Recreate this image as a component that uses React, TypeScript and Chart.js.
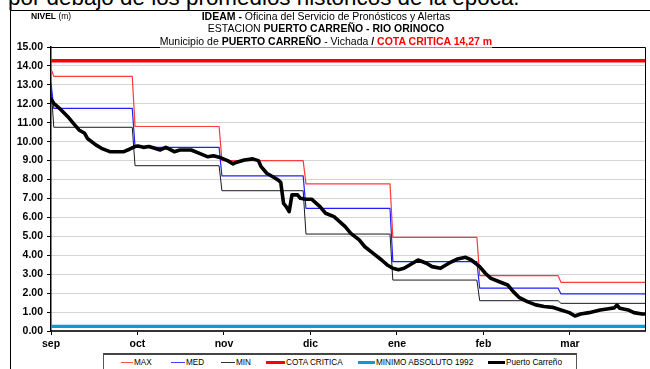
import React, { useEffect, useRef } from "react";
import { Chart, registerables } from "chart.js";

Chart.register(...registerables);

// Day index: 0 = 1 sep 2015 ... 212 = 31 mar 2016
const LAST_DAY = 212;
const MONTH_TICK_STEP = 30.87;
const monthLabels = ["sep", "oct", "nov", "dic", "ene", "feb", "mar"];
const yTickValues = [0, 15];

// Historical monthly references (MAX / MED / MIN), as step points
const histDays = [0, 1, 29, 30, 60, 61, 90, 91, 121, 122, 152, 153, 181, 182, 212];
const maxLevels = [13.85, 13.45, 13.45, 10.8, 10.8, 9.0, 9.0, 7.77, 7.77, 4.95, 4.95, 2.92, 2.92, 2.57, 2.57];
const medLevels = [13.1, 11.76, 11.76, 9.7, 9.7, 8.19, 8.19, 6.48, 6.48, 3.66, 3.66, 2.26, 2.26, 1.96, 1.96];
const minLevels = [12.9, 10.76, 10.76, 8.73, 8.73, 7.41, 7.41, 5.12, 5.12, 2.69, 2.69, 1.6, 1.6, 1.46, 1.46];

const cotaCritica = 14.27;
const minimoAbsoluto1992 = 0.24;

// Observed level at Puerto Carreño
const carrenoDays = [
  0, 1, 3, 6, 8, 10, 12, 13, 16, 18, 21, 26, 28, 30, 31, 33, 35, 37, 39, 41, 44, 46, 50, 53, 56, 58, 60,
  63, 65, 66, 69, 72, 74, 75, 77, 79, 81, 82, 83, 84, 85, 86, 88, 89, 91, 93, 94, 96, 98, 101, 103, 105,
  107, 110, 112, 115, 118, 120, 122, 124, 126, 128, 131, 134, 136, 139, 142, 145, 148, 150, 153, 155, 157,
  160, 163, 165, 167, 170, 173, 176, 179, 182, 185, 187, 189, 192, 196, 199, 201, 202, 203, 206, 208, 211, 212,
];
const carrenoLevels = [
  12.25, 12.03, 11.76, 11.32, 10.97, 10.62, 10.44, 10.17, 9.83, 9.65, 9.47, 9.47, 9.6, 9.74, 9.77, 9.7, 9.74,
  9.65, 9.56, 9.7, 9.47, 9.56, 9.56, 9.38, 9.2, 9.26, 9.18, 9.0, 8.83, 8.9, 9.03, 9.09, 9.0, 8.68, 8.33, 8.16,
  7.98, 7.85, 6.74, 6.56, 6.3, 7.19, 7.19, 7.01, 6.96, 6.96, 6.83, 6.57, 6.22, 6.04, 5.78, 5.51, 5.16, 4.81,
  4.45, 4.1, 3.75, 3.49, 3.31, 3.24, 3.31, 3.49, 3.75, 3.58, 3.4, 3.31, 3.58, 3.8, 3.89, 3.75, 3.4, 3.05, 2.78,
  2.6, 2.43, 2.08, 1.78, 1.55, 1.38, 1.29, 1.25, 1.11, 0.97, 0.79, 0.9, 0.97, 1.11, 1.18, 1.22, 1.37, 1.2, 1.11,
  0.97, 0.9, 0.9,
];

const FONT = "'Liberation Sans', Arial, Helvetica, sans-serif";

const toPoints = (xs: number[], ys: number[]) => xs.map((x, i) => ({ x, y: ys[i] }));

const legendEntries = [
  { label: "MAX", color: "#ff5050", thick: 1.5, left: 18, w: 12 },
  { label: "MED", color: "#4040ff", thick: 1.5, left: 68, w: 14 },
  { label: "MIN", color: "#333333", thick: 1.2, left: 118, w: 14 },
  { label: "COTA CRITICA", color: "#ff0000", thick: 3.5, left: 163, w: 19 },
  { label: "MINIMO ABSOLUTO 1992", color: "#0a9bd6", thick: 3.5, left: 255, w: 17 },
  { label: "Puerto Carreño", color: "#000000", thick: 3.5, left: 385, w: 17 },
];

export default function App() {
  const canvasRef = useRef<HTMLCanvasElement>(null);

  useEffect(() => {
    if (!canvasRef.current) return;

    const framePlugin = {
      id: "plotFrame",
      afterDraw(chart: any) {
        const { ctx, chartArea: a } = chart;
        ctx.save();
        ctx.strokeStyle = "#000";
        ctx.lineWidth = 1;
        ctx.beginPath();
        ctx.moveTo(a.left - 1, Math.floor(a.top) + 0.5);
        ctx.lineTo(Math.floor(a.right) + 0.5, Math.floor(a.top) + 0.5);
        ctx.lineTo(Math.floor(a.right) + 0.5, a.bottom);
        ctx.stroke();
        ctx.restore();
      },
    };

    const line = (label: string, data: any[], color: string, width: number, order: number) => ({
      label,
      data,
      borderColor: color,
      backgroundColor: color,
      borderWidth: width,
      pointRadius: 0,
      tension: 0,
      fill: false,
      order,
      borderJoinStyle: "round" as const,
      borderCapStyle: "round" as const,
    });

    const chart = new Chart(canvasRef.current, {
      type: "line",
      data: {
        datasets: [
          line("Puerto Carreño", toPoints(carrenoDays, carrenoLevels), "#000000", 3.6, 0),
          line("COTA CRITICA", toPoints([0, LAST_DAY], [cotaCritica, cotaCritica]), "#ff0000", 3.5, 1),
          line("MINIMO ABSOLUTO 1992", toPoints([0, LAST_DAY], [minimoAbsoluto1992, minimoAbsoluto1992]), "#0a9bd6", 3.2, 2),
          line("MAX", toPoints(histDays, maxLevels), "#ff3b3b", 1.2, 3),
          line("MED", toPoints(histDays, medLevels), "#2020ff", 1.2, 4),
          line("MIN", toPoints(histDays, minLevels), "#1a1a1a", 1, 5),
        ],
      },
      options: {
        animation: false,
        responsive: false,
        devicePixelRatio: 1,
        parsing: false as any,
        normalized: true,
        layout: { padding: { top: 47, right: 5, left: 0, bottom: 0 } },
        plugins: { legend: { display: false }, tooltip: { enabled: false }, title: { display: false } },
        scales: {
          x: {
            type: "linear",
            min: 0,
            max: LAST_DAY,
            afterBuildTicks: (scale: any) => {
              scale.ticks = monthLabels.map((_, i) => ({ value: i * MONTH_TICK_STEP }));
            },
            afterFit: (scale: any) => {
              scale.height = 38;
            },
            ticks: {
              autoSkip: false,
              maxRotation: 0,
              padding: 3,
              color: "#000",
              font: { family: FONT, size: 10.5, weight: "bold" },
              callback: (_v: any, i: number) => monthLabels[i] ?? "",
            },
            grid: {
              drawOnChartArea: false,
              drawTicks: true,
              tickLength: 4,
              tickColor: "#000",
              color: "#000",
            },
            border: { display: true, color: "#333", width: 2 },
          },
          y: {
            min: yTickValues[0],
            max: yTickValues[1],
            afterFit: (scale: any) => {
              scale.width = 51;
            },
            ticks: {
              stepSize: 1,
              padding: 4,
              color: "#000",
              font: { family: FONT, size: 10.5, weight: "bold" },
              callback: (v: any) => Number(v).toFixed(2),
            },
            grid: {
              color: "#a8a8a8",
              lineWidth: 1,
              tickLength: 4,
              tickColor: "#000",
              tickBorderDash: [],
            } as any,
            border: { display: true, color: "#000", width: 1.5, dash: [1, 1] },
          },
        },
      },
      plugins: [framePlugin],
    } as any);

    return () => chart.destroy();
  }, []);

  return (
    <div style={{ position: "absolute", left: 0, top: 0, width: 650, height: 369, overflow: "hidden", background: "#fff" }}>
      {/* sentence of the surrounding document, cut off by the chart */}
      <div style={{ position: "absolute", left: 0, top: 0, width: 650, height: 10, overflow: "hidden" }}>
        <div
          style={{
            position: "absolute",
            left: 8,
            top: -13,
            fontFamily: FONT,
            fontSize: 22.4,
            lineHeight: "22.4px",
            whiteSpace: "nowrap",
            color: "#000",
          }}
        >
          por debajo de los promedios históricos de la época.
        </div>
      </div>

      {/* chart object frame */}
      <div
        style={{
          position: "absolute",
          left: 10,
          top: 10,
          width: 700,
          height: 400,
          borderLeft: "1px solid #000",
          borderTop: "1px solid #000",
          background: "#fff",
        }}
      />

      <canvas ref={canvasRef} width={650} height={369} style={{ position: "absolute", left: 0, top: 0, width: 650, height: 369 }} />

      {/* axis unit */}
      <div style={{ position: "absolute", left: 31, top: 11, fontFamily: FONT, fontSize: 8.5, lineHeight: "10px", color: "#000", whiteSpace: "nowrap" }}>
        <b>NIVEL</b> (m)
      </div>

      {/* title block */}
      <div style={{ position: "absolute", left: 0, top: 10, width: 652, textAlign: "center", fontFamily: FONT, fontSize: 10.5, lineHeight: "12px", color: "#000", whiteSpace: "nowrap" }}>
        <div>
          <b>IDEAM -</b> Oficina del Servicio de Pronósticos y Alertas
        </div>
        <div>
          ESTACION <b>PUERTO CARREÑO - RIO ORINOCO</b>
        </div>
      </div>
      <div style={{ position: "absolute", left: 0, top: 35, width: 652, textAlign: "center", fontFamily: FONT, fontSize: 10.5, lineHeight: "12px", color: "#000", whiteSpace: "nowrap" }}>
        <span style={{ display: "inline-block", background: "#fff", borderBottom: "1px solid #9a9a9a", height: 12 }}>
          Municipio de <b>PUERTO CARREÑO</b> - Vichada <b>/</b>{" "}
          <b style={{ color: "#ff0000" }}>COTA CRITICA 14,27 m</b>
        </span>
      </div>

      {/* legend */}
      <div
        style={{
          position: "absolute",
          left: 103,
          top: 353,
          width: 472,
          height: 15,
          borderLeft: "1px solid #555",
          borderRight: "1px solid #555",
          borderBottom: "1px solid #555",
          borderTop: "2px solid #444",
          background: "#fff",
          fontFamily: FONT,
          fontSize: 8.2,
          color: "#000",
        }}
      >
        {legendEntries.map((e) => (
          <div key={e.label} style={{ position: "absolute", left: e.left - 1, top: 1, height: 13, display: "flex", alignItems: "center", whiteSpace: "nowrap" }}>
            <span style={{ display: "inline-block", width: e.w, height: e.thick, background: e.color, marginRight: 1 }} />
            <span style={{ lineHeight: "13px" }}>{e.label}</span>
          </div>
        ))}
      </div>
    </div>
  );
}
